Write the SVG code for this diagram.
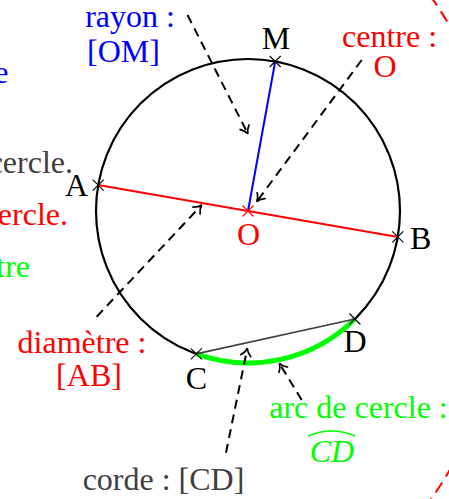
<svg xmlns="http://www.w3.org/2000/svg" width="449" height="499" viewBox="0 0 449 499">
<style>
text{font-family:"Liberation Serif","Times New Roman",serif;font-size:32px}
.blue{fill:#0000ff}.red{fill:#ff0000}.green{fill:#00ff00}.gray{fill:#404040}.black{fill:#000}
.mid{text-anchor:middle}.end{text-anchor:end}
.dash{stroke:#000;stroke-width:2;fill:none;stroke-dasharray:9 6;marker-end:url(#arr)}
.cross{stroke:#000;stroke-width:1.1}
</style>
<defs>
<marker id="arr" markerUnits="userSpaceOnUse" markerWidth="16" markerHeight="16" viewBox="-10 -8 12 16" refX="0" refY="0" orient="auto" overflow="visible">
<path d="M-8,-5.5 C-5.5,-2.5 -2.5,-0.6 0,0 C-2.5,0.6 -5.5,2.5 -8,5.5" fill="none" stroke="#000" stroke-width="1.6" stroke-dasharray="none"/>
</marker>
<g id="x"><path d="M-5.5,-5.5 L5.5,5.5 M-5.5,5.5 L5.5,-5.5"/></g>
</defs>
<rect width="449" height="499" fill="#fff"/>

<ellipse cx="150" cy="248" rx="359" ry="403.5" fill="none" stroke="#ff0000" stroke-width="2" stroke-dasharray="12 7"/>

<g id="clipped-texts">
<text class="blue end" x="8.5" y="83">e</text>
<text class="gray end" x="73" y="173">cercle.</text>
<text class="red end" x="68" y="225">ercle.</text>
<text class="green end" x="30" y="277">tre</text>
</g>

<g id="circle">
<circle cx="248" cy="211" r="152" fill="none" stroke="#000" stroke-width="2.2"/>
</g>
<g id="arc-CD">
<path d="M196.3,353.9 A152,152 0 0 0 354.9,319" fill="none" stroke="#00ff00" stroke-width="5"/>
</g>
<g id="chord-CD">
<line x1="196.3" y1="353.9" x2="354.9" y2="319" stroke="#404040" stroke-width="1.6"/>
</g>
<g id="diameter-AB">
<line x1="98.2" y1="185.1" x2="397.8" y2="236.9" stroke="#ff0000" stroke-width="2"/>
</g>
<g id="radius-OM">
<line x1="248" y1="211" x2="275.2" y2="61.5" stroke="#0000ff" stroke-width="2"/>
</g>

<g id="connectors">
<line class="dash" x1="187.5" y1="15" x2="248" y2="134"/>
<line class="dash" x1="361.7" y1="60" x2="256.7" y2="201.7"/>
<line class="dash" x1="96.7" y1="316.7" x2="201.7" y2="205"/>
<line class="dash" x1="226" y1="452.7" x2="247.3" y2="348.3"/>
<line class="dash" x1="301.7" y1="400" x2="279.3" y2="363.3"/>
</g>

<g id="point-A"><use href="#x" class="cross" x="98.2" y="185.1"/><text class="black end" x="88" y="196">A</text></g>
<g id="point-B"><use href="#x" class="cross" x="397.8" y="236.9"/><text class="black" x="410" y="249">B</text></g>
<g id="point-M"><use href="#x" class="cross" x="275.2" y="61.5"/><text class="black mid" x="276" y="49">M</text></g>
<g id="point-C"><use href="#x" class="cross" x="196.3" y="353.9"/><text class="black mid" x="196.5" y="389">C</text></g>
<g id="point-D"><use href="#x" class="cross" x="354.9" y="319"/><text class="black mid" x="355" y="352">D</text></g>
<g id="point-O"><use href="#x" class="cross" style="stroke:#ff0000" x="248" y="211"/><text class="red mid" x="248.5" y="245">O</text></g>

<g id="label-rayon">
<text class="blue mid" x="130" y="27">rayon :</text>
<text class="blue mid" x="123.5" y="62">[OM]</text>
</g>
<g id="label-centre">
<text class="red mid" x="389.5" y="47">centre :</text>
<text class="red mid" x="385" y="77">O</text>
</g>
<g id="label-diametre">
<text class="red mid" x="82" y="353">diamètre :</text>
<text class="red mid" x="89" y="386">[AB]</text>
</g>
<g id="label-arc">
<text class="green mid" x="358.5" y="418">arc de cercle :</text>
<text class="green mid" x="332" y="462" font-style="italic">CD</text>
<path d="M308,436 Q331.5,426 355,436" fill="none" stroke="#00ff00" stroke-width="1.6"/>
</g>
<g id="label-corde">
<text class="gray mid" x="163.5" y="490">corde : [CD]</text>
</g>
</svg>
